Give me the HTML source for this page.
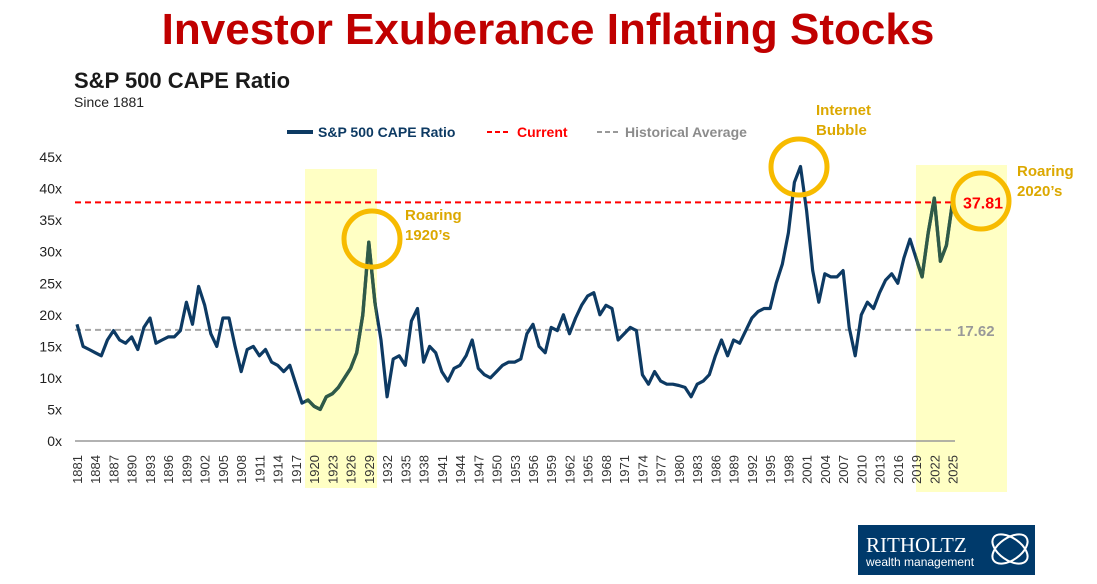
<!DOCTYPE html>
<html><head><meta charset="utf-8"><style>
body{margin:0;background:#fff;}
svg{display:block;font-family:"Liberation Sans",sans-serif;}
</style></head><body>
<svg id="c" width="1097" height="584" viewBox="0 0 1097 584">
<defs><clipPath id="hl"><rect x="305" y="169" width="72" height="319"/><rect x="916" y="165" width="91" height="327"/></clipPath></defs>
<text x="548" y="44" text-anchor="middle" font-size="44" font-weight="bold" fill="#c00000">Investor Exuberance Inflating Stocks</text>
<text x="74" y="88" font-size="22" font-weight="bold" fill="#1a1a1a">S&amp;P 500 CAPE Ratio</text>
<text x="74" y="107" font-size="14" fill="#222">Since 1881</text>
<rect x="305" y="169" width="72" height="319" fill="#ffffc4"/>
<rect x="916" y="165" width="91" height="327" fill="#ffffc4"/>
<g>
<line x1="287" y1="132" x2="313" y2="132" stroke="#0d3a63" stroke-width="4"/>
<text x="318" y="137" font-size="14" font-weight="bold" fill="#0d3a63">S&amp;P 500 CAPE Ratio</text>
<line x1="487" y1="132" x2="511" y2="132" stroke="#f00" stroke-width="2" stroke-dasharray="5,3"/>
<text x="517" y="137" font-size="14" font-weight="bold" fill="#f00">Current</text>
<line x1="597" y1="132" x2="620" y2="132" stroke="#999" stroke-width="2" stroke-dasharray="5,3"/>
<text x="625" y="137" font-size="14" font-weight="bold" fill="#8c8c8c">Historical Average</text>
</g>
<g id="yaxis"></g>
<g id="xaxis"></g>
<g id="refs"></g>
<g id="series"></g>
<circle cx="372" cy="239" r="28" fill="none" stroke="#f7bb00" stroke-width="5"/>
<circle cx="799" cy="167" r="28" fill="none" stroke="#f7bb00" stroke-width="5"/>
<circle cx="981" cy="201" r="28" fill="none" stroke="#f7bb00" stroke-width="5"/>
<text x="405" y="220" font-size="15" font-weight="bold" fill="#dca800"><tspan x="405">Roaring</tspan><tspan x="405" dy="20">1920’s</tspan></text>
<text x="816" y="115" font-size="15" font-weight="bold" fill="#dca800"><tspan x="816">Internet</tspan><tspan x="816" dy="20">Bubble</tspan></text>
<text x="1017" y="176" font-size="15" font-weight="bold" fill="#dca800"><tspan x="1017">Roaring</tspan><tspan x="1017" dy="20">2020’s</tspan></text>
<g>
<rect x="858" y="525" width="177" height="50" fill="#003a6b"/>
<text x="866" y="552" font-family="Liberation Serif,serif" font-size="21" fill="#fff">RITHOLTZ</text>
<text x="866" y="566" font-size="12" fill="#fff">wealth management</text>
<ellipse cx="1010" cy="549" rx="20" ry="11" fill="none" stroke="#fff" stroke-width="2" transform="rotate(-35 1010 549)"/>
<ellipse cx="1010" cy="549" rx="20" ry="11" fill="none" stroke="#fff" stroke-width="2" transform="rotate(35 1010 549)"/>
</g>
</svg>
<script>
const yTicks=[0,5,10,15,20,25,30,35,40,45];
const currentValue=37.81;
const averageValue=17.62;
const years=[1881,1882,1883,1884,1885,1886,1887,1888,1889,1890,1891,1892,1893,1894,1895,1896,1897,1898,1899,1900,1901,1902,1903,1904,1905,1906,1907,1908,1909,1910,1911,1912,1913,1914,1915,1916,1917,1918,1919,1920,1921,1922,1923,1924,1925,1926,1927,1928,1929,1930,1931,1932,1933,1934,1935,1936,1937,1938,1939,1940,1941,1942,1943,1944,1945,1946,1947,1948,1949,1950,1951,1952,1953,1954,1955,1956,1957,1958,1959,1960,1961,1962,1963,1964,1965,1966,1967,1968,1969,1970,1971,1972,1973,1974,1975,1976,1977,1978,1979,1980,1981,1982,1983,1984,1985,1986,1987,1988,1989,1990,1991,1992,1993,1994,1995,1996,1997,1998,1999,2000,2001,2002,2003,2004,2005,2006,2007,2008,2009,2010,2011,2012,2013,2014,2015,2016,2017,2018,2019,2020,2021,2022,2023,2024,2025];
const cape=[18.5,15,14.5,14,13.5,16,17.5,16,15.5,16.5,14.5,18,19.5,15.5,16,16.5,16.5,17.5,22,18.5,24.5,21.5,17,15,19.5,19.5,15,11,14.5,15,13.5,14.5,12.5,12,11,12,9,6,6.5,5.5,5,7,7.5,8.5,10,11.5,14,20,31.5,22,16,7,13,13.5,12,19,21,12.5,15,14,11,9.5,11.5,12,13.5,16,11.5,10.5,10,11,12,12.5,12.5,13,17,18.5,15,14,18,17.5,20,17,19.5,21.5,23,23.5,20,21.5,21,16,17,18,17.5,10.5,9,11,9.5,9,9,8.8,8.5,7,9,9.5,10.5,13.5,16,13.5,16,15.5,17.5,19.5,20.5,21,21,25,28,33,41,43.5,36.5,27,22,26.5,26,26,27,18,13.5,20,22,21,23.5,25.5,26.5,25,29,32,29,26,33,38.5,28.5,31,37.8];
const NS="http://www.w3.org/2000/svg";
const x0=77,pxYear=6.08,y0=441,pxUnit=6.31;
const X=y=>x0+(y-1881)*pxYear, Y=v=>y0-v*pxUnit;
function mk(t,a,p){const e=document.createElementNS(NS,t);for(const k in a)e.setAttribute(k,a[k]);p.appendChild(e);return e;}
const ya=document.getElementById('yaxis');
yTicks.forEach(v=>{const t=mk('text',{x:62,y:Y(v)+5,'font-size':14,fill:'#222','text-anchor':'end'},ya);t.textContent=v+'x';

});
const xa=document.getElementById('xaxis');
const al=mk('line',{x1:75,y1:y0,x2:955,y2:y0,stroke:'#999','stroke-width':1.5},xa);


for(let yr=1881;yr<=2025;yr+=3){const x=X(yr)+5;const t=mk('text',{x:x,y:455,'font-size':13,fill:'#333','text-anchor':'end',transform:`rotate(-90 ${x} 455)`},xa);t.textContent=yr;

}
const refs=document.getElementById('refs');
const rl=mk('line',{x1:75,y1:Y(currentValue),x2:955,y2:Y(currentValue),stroke:'#f00','stroke-width':2,'stroke-dasharray':'6,4'},refs);


const gl=mk('line',{x1:75,y1:Y(averageValue),x2:955,y2:Y(averageValue),stroke:'#a6a6a6','stroke-width':2,'stroke-dasharray':'6,4'},refs);


const ct=mk('text',{x:963,y:Y(currentValue)+6,'font-size':16,'font-weight':'bold',fill:'#f00'},refs);ct.textContent=currentValue.toFixed(2);


const at=mk('text',{x:957,y:Y(averageValue)+6,'font-size':15,'font-weight':'bold',fill:'#999'},refs);at.textContent=averageValue.toFixed(2);


const s=document.getElementById('series');
const d=years.map((yr,i)=>(i?'L':'M')+X(yr).toFixed(1)+','+Y(cape[i]).toFixed(1)).join(' ');
const p=mk('path',{d:d,fill:'none',stroke:'#0d3a63','stroke-width':3.2,'stroke-linejoin':'round'},s);


const p2=mk('path',{d:d,fill:'none',stroke:'#2f5a48','stroke-width':3.4,'stroke-linejoin':'round','clip-path':'url(#hl)'},s);


</script>
</body></html>
